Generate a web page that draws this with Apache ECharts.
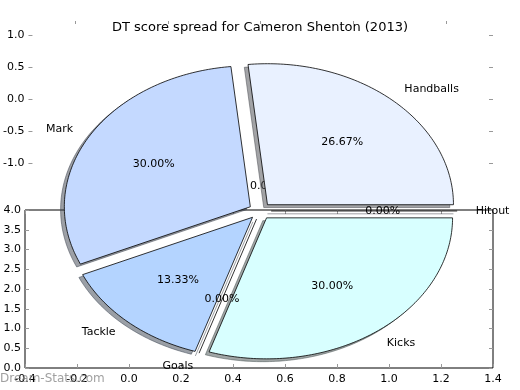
<!DOCTYPE html>
<html>
<head>
<meta charset="utf-8">
<script src="https://cdn.jsdelivr.net/npm/echarts@6/dist/echarts.min.js"></script>
<style>html,body{margin:0;padding:0;background:#fff;}#c{width:520px;height:390px;}</style>
</head>
<body>
<div id="c"></div>
<script>
// ---- data ----
const titleText = 'DT score spread for Cameron Shenton (2013)';
const categories = ['Handballs', 'Mark', 'Tackle', 'Goals', 'Kicks', 'Hitout'];
const values = [8, 9, 4, 0, 9, 0];
const sliceColors = ['#e9f1ff', '#c4d9ff', '#b4d4ff', '#cce0ff', '#d8ffff', '#e0e0ff'];
const topYRange = [-1, 1, 0.5];
const topXTicks = ['', '', '', '', ''];
const bottomXRange = [-0.4, 1.4, 0.2];
const bottomYRange = [0, 4, 0.5];
const watermark = 'Dream-Stats.com';
const strayLabel = '0.00%';

// ---- style constants ----
const FONT = 'DejaVu Sans';
const EXPLODE = 0.06;
const LABEL_DIST = 1.1;
const PCT_DIST = 0.6;
const SHADOW_OFF = 0.02;

const total = values.reduce((a, b) => a + b, 0);
const startAngles = [];
(function () { let acc = 0; values.forEach(v => { startAngles.push(acc); acc += v / total * 360; }); })();

function fmt1(v) { if (Math.abs(v) < 1e-9) v = 0; return v.toFixed(1); }

function shade(hex) {
  const r = parseInt(hex.slice(1, 3), 16), g = parseInt(hex.slice(3, 5), 16), b = parseInt(hex.slice(5, 7), 16);
  return 'rgba(' + Math.round(r * 0.3) + ',' + Math.round(g * 0.3) + ',' + Math.round(b * 0.3) + ',0.5)';
}

function renderItem(params, api) {
  const i = params.dataIndex;
  const a0 = startAngles[i];
  const a1 = a0 + values[i] / total * 360;
  const mid = (a0 + a1) / 2 * Math.PI / 180;
  const ox = EXPLODE * Math.cos(mid), oy = EXPLODE * Math.sin(mid);
  const pts = [[ox, oy]];
  const steps = Math.max(1, Math.ceil((a1 - a0) / 1));
  for (let k = 0; k <= steps; k++) {
    const a = (a0 + (a1 - a0) * k / steps) * Math.PI / 180;
    pts.push([ox + Math.cos(a), oy + Math.sin(a)]);
  }
  const px = pts.map(p => api.coord(p));
  const sp = pts.map(p => api.coord([p[0] - SHADOW_OFF, p[1] - SHADOW_OFF]));
  const zero = values[i] === 0;
  const sc = shade(sliceColors[i]);
  const children = [];
  if (zero) {
    children.push({ type: 'polyline', z2: 0, shape: { points: sp }, style: { stroke: sc, lineWidth: 1, fill: null } });
    children.push({ type: 'polyline', z2: 1, shape: { points: px }, style: { stroke: '#000', lineWidth: 0.8, fill: null } });
  } else {
    children.push({ type: 'polygon', z2: 0, shape: { points: sp }, style: { fill: sc, stroke: sc, lineWidth: 1 } });
    children.push({ type: 'polygon', z2: 1, shape: { points: px }, style: { fill: sliceColors[i], stroke: '#000', lineWidth: 0.8 } });
  }
  const lx = ox + LABEL_DIST * Math.cos(mid), ly = oy + LABEL_DIST * Math.sin(mid);
  const lp = api.coord([lx, ly]);
  children.push({ type: 'text', z2: 2, style: { text: categories[i], x: lp[0], y: lp[1], align: lx > 0 ? 'left' : 'right', verticalAlign: 'middle', fill: '#000', font: '11px "' + FONT + '"' } });
  const pp = api.coord([ox + PCT_DIST * Math.cos(mid), oy + PCT_DIST * Math.sin(mid)]);
  children.push({ type: 'text', z2: 2, style: { text: (values[i] / total * 100).toFixed(2) + '%', x: pp[0], y: pp[1], align: 'center', verticalAlign: 'middle', fill: '#000', font: '11px "' + FONT + '"' } });
  return { type: 'group', children: children };
}

const tickGray = { color: '#999', width: 1 };
const labelStyle = { color: '#000', fontFamily: FONT, fontSize: 11 };
const noLine = { show: false, onZero: false };

const chart = echarts.init(document.getElementById('c'), null, { renderer: 'canvas' });
chart.setOption({
  animation: false,
  backgroundColor: '#fff',
  title: { text: titleText, left: 'center', top: 16, textStyle: { fontFamily: FONT, fontSize: 13, fontWeight: 'normal', color: '#000' } },
  graphic: [
    { type: 'text', z: 1, left: 0, top: 373, style: { text: watermark, fill: 'rgba(120,120,120,0.7)', font: '12px "' + FONT + '"' } },
    { type: 'text', z: 1, x: 250, y: 186, style: { text: strayLabel, fill: '#000', font: '11px "' + FONT + '"', align: 'left', verticalAlign: 'middle' } }
  ],
  grid: [
    { left: 25, top: 35, width: 468, height: 128, show: false },
    { left: 25, top: 210, width: 468, height: 158, show: true, borderColor: '#000', borderWidth: 1, backgroundColor: 'transparent' },
    { left: 74, top: 70, width: 372, height: 282, show: false }
  ],
  xAxis: [
    { gridIndex: 0, type: 'category', data: topXTicks, position: 'top', offset: 14, axisLine: noLine,
      axisTick: { show: true, inside: true, length: 3, alignWithLabel: true, lineStyle: tickGray }, axisLabel: { show: false }, splitLine: { show: false } },
    { gridIndex: 1, type: 'value', min: bottomXRange[0], max: bottomXRange[1], interval: bottomXRange[2], position: 'bottom',
      axisLine: noLine, axisTick: { inside: true, length: 4, lineStyle: tickGray },
      axisLabel: Object.assign({ margin: 6, formatter: fmt1 }, labelStyle), splitLine: { show: false } },
    { gridIndex: 1, type: 'value', min: bottomXRange[0], max: bottomXRange[1], interval: bottomXRange[2], position: 'top',
      axisLine: noLine, axisTick: { inside: true, length: 4, lineStyle: tickGray }, axisLabel: { show: false }, splitLine: { show: false } },
    { gridIndex: 2, type: 'value', min: -1, max: 1, show: false, axisLine: noLine }
  ],
  yAxis: [
    { gridIndex: 0, type: 'value', min: topYRange[0], max: topYRange[1], interval: topYRange[2], position: 'left',
      axisLine: noLine, axisTick: { show: true, inside: true, length: 4, lineStyle: tickGray },
      axisLabel: Object.assign({ margin: 4, formatter: fmt1 }, labelStyle), splitLine: { show: false } },
    { gridIndex: 0, type: 'value', min: topYRange[0], max: topYRange[1], interval: topYRange[2], position: 'right',
      axisLine: noLine, axisTick: { show: true, inside: true, length: 4, lineStyle: tickGray }, axisLabel: { show: false }, splitLine: { show: false } },
    { gridIndex: 1, type: 'value', min: bottomYRange[0], max: bottomYRange[1], interval: bottomYRange[2], position: 'left',
      axisLine: noLine, axisTick: { show: true, inside: true, length: 4, lineStyle: tickGray },
      axisLabel: Object.assign({ margin: 4, formatter: fmt1 }, labelStyle), splitLine: { show: false } },
    { gridIndex: 1, type: 'value', min: bottomYRange[0], max: bottomYRange[1], interval: bottomYRange[2], position: 'right',
      axisLine: noLine, axisTick: { show: true, inside: true, length: 4, lineStyle: tickGray }, axisLabel: { show: false }, splitLine: { show: false } },
    { gridIndex: 2, type: 'value', min: -1, max: 1, show: false, axisLine: noLine }
  ],
  series: [{
    type: 'custom',
    coordinateSystem: 'cartesian2d',
    xAxisIndex: 3,
    yAxisIndex: 4,
    z: 3,
    silent: true,
    clip: false,
    renderItem: renderItem,
    data: values.map((v, i) => [0, 0, v, i])
  }]
});
</script>
</body>
</html>
